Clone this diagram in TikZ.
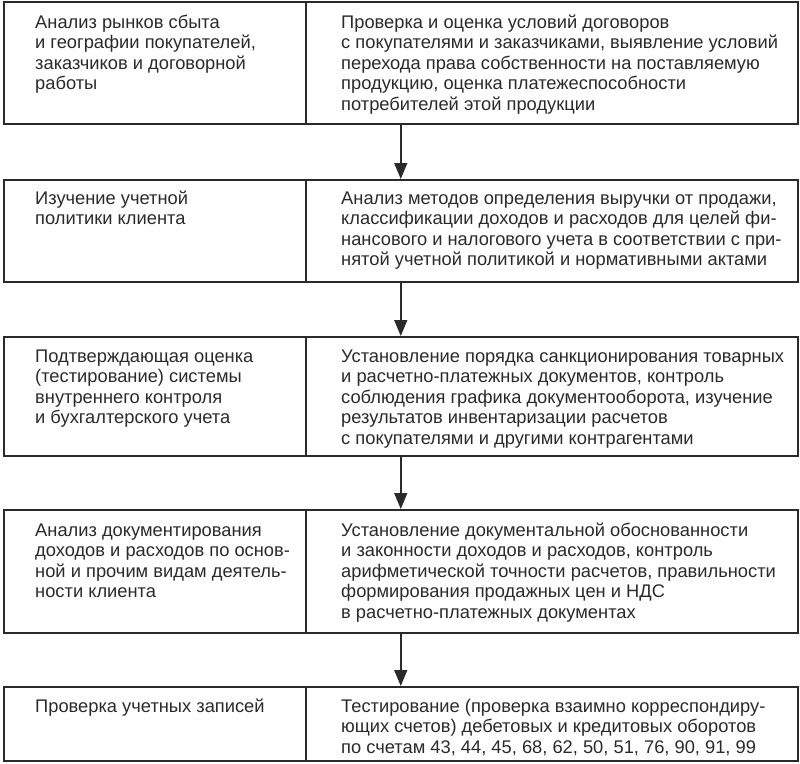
\documentclass[tikz,border=0pt]{standalone}
\usepackage{fontspec}
\setmainfont{Liberation Sans}
\usetikzlibrary{arrows.meta}
\definecolor{ink}{HTML}{2A2A2A}
\newcommand{\celltext}[2][18.3]{\parbox[t]{600pt}{\raggedright\fontsize{#1}{20.6}\selectfont #2}}
\tikzset{
  rowbox/.style={draw=ink, line width=1.5pt, minimum width=794pt, anchor=north west, inner sep=0pt},
  txt/.style={anchor=base west, inner sep=0pt, text=ink},
  flow/.style={draw=ink, line width=1.5pt, -{Triangle[width=13pt,length=16pt]}},
  divline/.style={draw=ink, line width=1.5pt}
}
\begin{document}
\begin{tikzpicture}[x=1pt,y=1pt]
\useasboundingbox (0,0) rectangle (800,-763);
% rows
\node[rowbox, minimum height=122pt] (r1) at (3,-1) {};
\node[rowbox, minimum height=102pt] (r2) at (3,-179) {};
\node[rowbox, minimum height=119pt] (r3) at (3,-336) {};
\node[rowbox, minimum height=123pt] (r4) at (3,-509) {};
\node[rowbox, minimum height=74pt] (r5) at (3,-686) {};
% dividers
\foreach \r in {r1,r2,r3,r4,r5}{
  \draw[divline] (\r.north west) ++(303,0) coordinate (\r t) -- (\r t |- \r.south);
}
% arrows
\draw[flow] (r1.south) -- (r2.north);
\draw[flow] (r2.south) -- (r3.north);
\draw[flow] (r3.south) -- (r4.north);
\draw[flow] (r4.south) -- (r5.north);
% texts
\node[txt] (l1) at (35,-28) {\celltext{Анализ рынков сбыта\\ и географии покупателей,\\ заказчиков и договорной\\ работы}};
\node[txt] (p1) at (341,-28) {\celltext{Проверка и оценка условий договоров\\ с покупателями и заказчиками, выявление условий\\ перехода права собственности на поставляемую\\ продукцию, оценка платежеспособности\\ потребителей этой продукции}};
\node[txt] (l2) at (35,-204) {\celltext{Изучение учетной\\ политики клиента}};
\node[txt] (p2) at (341,-204) {\celltext{Анализ методов определения выручки от продажи,\\ классификации доходов и расходов для целей фи-\\ нансового и налогового учета в соответствии с при-\\ нятой учетной политикой и нормативными актами}};
\node[txt] (l3) at (35,-362) {\celltext{Подтверждающая оценка\\ (тестирование) системы\\ внутреннего контроля\\ и бухгалтерского учета}};
\node[txt] (p3) at (341,-362) {\celltext{Установление порядка санкционирования товарных\\ и расчетно-платежных документов, контроль\\ соблюдения графика документооборота, изучение\\ результатов инвентаризации расчетов\\ с покупателями и другими контрагентами}};
\node[txt] (l4) at (35,-536) {\celltext{Анализ документирования\\ доходов и расходов по основ-\\ ной и прочим видам деятель-\\ ности клиента}};
\node[txt] (p4) at (341,-536) {\celltext{Установление документальной обоснованности\\ и законности доходов и расходов, контроль\\ арифметической точности расчетов, правильности\\ формирования продажных цен и НДС\\ в расчетно-платежных документах}};
\node[txt] (l5) at (35,-712) {\celltext{Проверка учетных записей}};
\node[txt] (p5) at (341,-712) {\celltext{Тестирование (проверка взаимно корреспондиру-\\ ющих счетов) дебетовых и кредитовых оборотов\\ по счетам 43, 44, 45, 68, 62, 50, 51, 76, 90, 91, 99}};
\end{tikzpicture}
\end{document}
